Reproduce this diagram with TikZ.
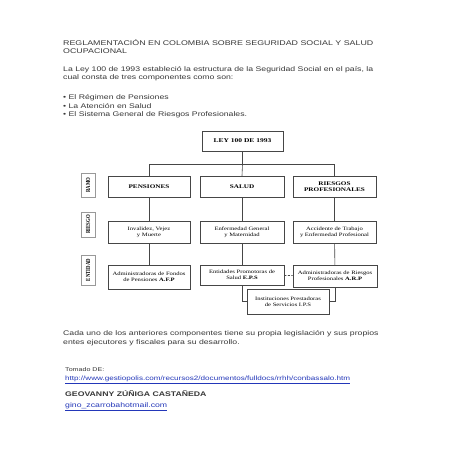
\documentclass[tikz,border=0pt]{standalone}
\usepackage{fontspec}
\setmainfont{Liberation Sans}
\newfontfamily\diagfont{Liberation Serif}
\usepackage{xcolor}
\usetikzlibrary{positioning}

\definecolor{textgray}{RGB}{55,55,55}
\definecolor{linkblue}{RGB}{35,55,185}
\definecolor{boxline}{RGB}{70,70,70}

\tikzset{
  squash/.style={yscale=0.77},
  body/.style={squash,anchor=base west,align=left,inner sep=0pt,text=textgray,
    font=\fontsize{8.7}{10.9}\selectfont},
  small/.style={body,font=\fontsize{7.1}{8.5}\selectfont},
  orgbox/.style={draw=boxline,line width=0.6pt,squash,inner sep=1pt,align=center,
    font=\diagfont\fontsize{6.6}{8.3}\selectfont},
  headbox/.style={orgbox,font=\diagfont\bfseries\fontsize{7.2}{7.9}\selectfont},
  side/.style={draw=gray!80,line width=0.8pt,rotate=90,xscale=0.77,inner sep=0pt,
    minimum height=14pt,font=\diagfont\bfseries\fontsize{6.2}{6.5}\selectfont},
  link/.style={line width=0.6pt,draw=boxline}
}

\begin{document}
\begin{tikzpicture}[x=1pt,y=-1pt]
\useasboundingbox[fill=white] (0,0) rectangle (452,452);

\node[body,font=\fontsize{8.85}{10.9}\selectfont] (titulo) at (63,54) {REGLAMENTACIÓN EN COLOMBIA SOBRE SEGURIDAD SOCIAL Y SALUD\\OCUPACIONAL};
\node[body] (intro) at (63,79.5) {La Ley 100 de 1993 estableció la estructura de la Seguridad Social en el país, la\\cual consta de tres componentes como son:};
\node[body] (lista) at (63,116.5) {• El Régimen de Pensiones\\• La Atención en Salud\\• El Sistema General de Riesgos Profesionales.};

\node[headbox,font=\diagfont\bfseries\fontsize{7.5}{8}\selectfont,minimum width=81pt,minimum height=26pt] (ley) at (242.5,141) {LEY 100 DE 1993};
\node[headbox,minimum width=82pt,minimum height=27.3pt] (pens) at (149,186.5) {PENSIONES};
\node[headbox,minimum width=84pt,minimum height=27.3pt] (sal) at (242,186.5) {SALUD};
\node[headbox,minimum width=83pt,minimum height=27.3pt] (ries) at (334.5,186.5) {RIESGOS\\PROFESIONALES};
\node[orgbox,minimum width=82pt,minimum height=28.6pt] (inv) at (149,232) {Invalidez, Vejez\\y Muerte};
\node[orgbox,minimum width=84pt,minimum height=28.6pt] (enf) at (242,232) {Enfermedad General\\y Maternidad};
\node[orgbox,minimum width=83pt,minimum height=28.6pt] (acc) at (334.5,232) {Accidente de Trabajo\\y Enfermedad Profesional};
\node[orgbox,minimum width=82pt,minimum height=31.2pt] (afp) at (149,277) {Administradoras de Fondos\\de Pensiones \textbf{A.F.P}};
\node[orgbox,minimum width=84pt,minimum height=26pt] (eps) at (242,275) {Entidades Promotoras de\\Salud \textbf{E.P.S}};
\node[orgbox,minimum width=84pt,minimum height=28.6pt] (arp) at (335,276) {Administradoras de Riesgos\\Profesionales \textbf{A.R.P}};
\node[orgbox,minimum width=82pt,minimum height=32.5pt] (ips) at (288,301.5) {Instituciones Prestadoras\\de Servicios I.P.S};

\node[side,minimum width=31.2pt] (ramo) at (88,185) {RAMO};
\node[side,minimum width=32.5pt] (riesgo) at (88,224.5) {RIESGO};
\node[side,minimum width=39pt] (entidad) at (88,270) {ENTIDAD};

\coordinate (bus) at (242.5,164);
\draw[link] (ley.south) -- (bus) -| (pens.north);
\draw[link] (bus) -| (ries.north);
\draw[link] (bus) -- (sal.north);
\draw[link] (pens) -- (inv);
\draw[link] (sal) -- (enf);
\draw[link] (ries) -- (acc);
\draw[link] (inv) -- (afp);
\draw[link] (enf) -- (eps);
\draw[link] (acc) -- (arp);
\draw[link,dashed,dash pattern=on 2pt off 1.5pt] (eps) -- (arp);
\draw[link] (eps.south) |- (ips.west);
\draw[link] (arp.south) |- (ips.east);

\node[body] (cierre) at (63,344) {Cada uno de los anteriores componentes tiene su propia legislación y sus propios\\entes ejecutores y fiscales para su desarrollo.};
\node[small] (fuente) at (65,371.5) {Tomado DE:};
\node[small,font=\fontsize{8.1}{9}\selectfont,text=linkblue] (url) at (65,380.5) {\underline{http://www.gestiopolis.com/recursos2/documentos/fulldocs/rrhh/conbassalo.htm}};
\node[body,font=\bfseries\fontsize{8.7}{10.9}\selectfont] (autor) at (65,396.7) {GEOVANNY ZÚÑIGA CASTAÑEDA};
\node[body,text=linkblue] (correo) at (65,407.5) {\underline{gino\_zcarrobahotmail.com}};
\end{tikzpicture}
\end{document}
